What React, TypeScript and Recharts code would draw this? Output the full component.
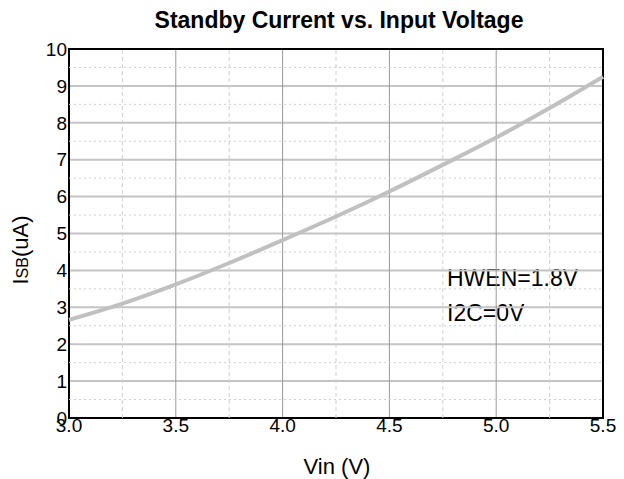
import {
  CartesianGrid,
  Line,
  LineChart,
  ReferenceArea,
  ReferenceLine,
  XAxis,
  YAxis,
} from "recharts";

const vin = [3.0, 3.25, 3.5, 3.75, 4.0, 4.25, 4.5, 4.75, 5.0, 5.25, 5.5];
const isb = [2.66, 3.1, 3.62, 4.2, 4.82, 5.46, 6.14, 6.86, 7.6, 8.4, 9.25];

const xTicks = [3.0, 3.5, 4.0, 4.5, 5.0, 5.5];
const yTicks = [0, 1, 2, 3, 4, 5, 6, 7, 8, 9, 10];
const xMinor = [3.25, 3.75, 4.25, 4.75, 5.25];
const yMinor = [0.5, 1.5, 2.5, 3.5, 4.5, 5.5, 6.5, 7.5, 8.5, 9.5];

const data = vin.map((v, i) => ({ vin: v, isb: isb[i] }));

const font = "Arial, 'Liberation Sans', sans-serif";

export default function App() {
  return (
    <div style={{ position: "absolute", left: 0, top: 0, width: 624, height: 479, background: "#fff" }}>
      <svg width={624} height={479} style={{ position: "absolute", left: 0, top: 0 }}>
        <text x={339} y={28} textAnchor="middle" fontFamily={font} fontWeight="bold" fontSize={23} fill="#000">
          Standby Current vs. Input Voltage
        </text>
        <text x={337} y={474} textAnchor="middle" fontFamily={font} fontSize={22} fill="#000">
          Vin (V)
        </text>
        <text
          transform="translate(28,250) rotate(-90)"
          textAnchor="middle"
          fontFamily={font}
          fontSize={22}
          fill="#000"
        >
          I<tspan fontSize={16}>SB</tspan>(uA)
        </text>
        <text x={447} y={286} fontFamily={font} fontSize={23} fill="#000">HWEN=1.8V</text>
        <text x={447} y={321} fontFamily={font} fontSize={23} fill="#000">I2C=0V</text>
      </svg>
      <div style={{ position: "absolute", left: 0, top: 0 }}>
        <LineChart width={624} height={479} data={data} margin={{ top: 49, right: 21, bottom: 0, left: 0 }}>
          <CartesianGrid horizontal={true} vertical={false} stroke="#c4c4c4" strokeWidth={2} />
          <CartesianGrid horizontal={false} vertical={true} stroke="#999" strokeWidth={1} />
          {yMinor.map((y) => (
            <ReferenceLine key={"y" + y} y={y} stroke="#cfcfcf" strokeDasharray="2 3" />
          ))}
          {xMinor.map((x) => (
            <ReferenceLine key={"x" + x} x={x} stroke="#cfcfcf" strokeDasharray="4 3" />
          ))}
          <XAxis
            dataKey="vin"
            type="number"
            domain={[3, 5.5]}
            ticks={xTicks}
            tickFormatter={(v: number) => v.toFixed(1)}
            tickLine={false}
            tickSize={0}
            tickMargin={1}
            axisLine={false}
            height={61}
            tick={{ fill: "#000", fontSize: 19, fontFamily: font }}
            interval={0}
          />
          <YAxis
            type="number"
            domain={[0, 10]}
            ticks={yTicks}
            tickLine={false}
            tickSize={0}
            tickMargin={2}
            axisLine={false}
            width={69}
            tick={{ fill: "#000", fontSize: 19, fontFamily: font }}
            interval={0}
          />
          <ReferenceArea x1={3} x2={5.5} y1={0} y2={10} fill="none" stroke="#000" strokeWidth={2} />
          <Line
            dataKey="isb"
            type="monotone"
            stroke="#c0c0c0"
            strokeWidth={4}
            dot={false}
            isAnimationActive={false}
          />
        </LineChart>
      </div>
    </div>
  );
}
